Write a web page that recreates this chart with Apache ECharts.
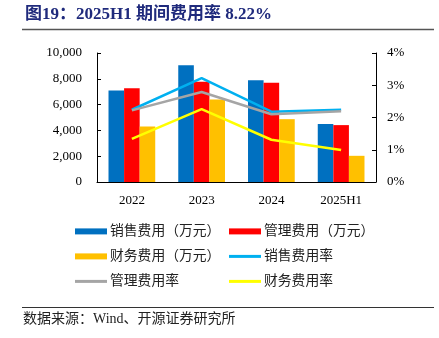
<!DOCTYPE html>
<html><head><meta charset="utf-8">
<script src="https://cdn.jsdelivr.net/npm/echarts@6/dist/echarts.min.js"></script>
<style>html,body{margin:0;padding:0;background:#fff}#c{width:439px;height:338px}</style>
</head><body><div id="c"></div>
<script>
const categories = ['2022', '2023', '2024', '2025H1'];
const salesExp = [7100, 9050, 7890, 4490];
const adminExp = [7270, 7780, 7700, 4410];
const finExp = [4300, 6400, 4870, 2030];
const salesRate = [2.24, 3.22, 2.18, 2.24];
const adminRate = [2.22, 2.79, 2.10, 2.19];
const finRate = [1.34, 2.26, 1.31, 0.99];
const leftTicks = [0, 2000, 4000, 6000, 8000, 10000];
const rightTicks = [0, 1, 2, 3, 4];
const seriesNames = ['销售费用（万元）', '管理费用（万元）', '财务费用（万元）', '销售费用率', '管理费用率', '财务费用率'];
const colors = ['#0070C0', '#FF0000', '#FFC000', '#00B0F0', '#A5A5A5', '#FFFF00'];

const serif = '"Liberation Serif","Times New Roman","Noto Sans CJK SC",serif';
const cjk = '"Liberation Serif","Noto Sans CJK SC",serif';
const chart = echarts.init(document.getElementById('c'), null, {renderer: 'canvas'});

const legendPos = [[75, 224], [229, 224], [75, 249], [229, 249], [75, 274], [229, 274]];
const legends = seriesNames.map((n, i) => ({
  data: [{name: n, icon: 'rect'}],
  left: legendPos[i][0], top: legendPos[i][1] + 0.5,
  itemWidth: 32, itemHeight: i < 3 ? 6 : 3,
  itemGap: 0, padding: 0,
  selectedMode: false,
  textStyle: {fontFamily: cjk, fontSize: 13.8, color: '#222', padding: [0, 0, 0, -2]}
}));

const barS = [salesExp, adminExp, finExp].map((d, i) => ({
  name: seriesNames[i], type: 'bar', data: d, yAxisIndex: 0,
  barGap: '0%', barCategoryGap: '33%',
  itemStyle: {color: colors[i]}
}));
const lineS = [salesRate, adminRate, finRate].map((d, i) => ({
  name: seriesNames[i + 3], type: 'line', data: d, yAxisIndex: 1,
  symbol: 'none', lineStyle: {color: colors[i + 3], width: 2.5},
  itemStyle: {color: colors[i + 3]}
}));

chart.setOption({
  animation: false,
  backgroundColor: '#fff',
  grid: {left: 97, right: 63, top: 53, bottom: 156},
  legend: legends,
  xAxis: {
    type: 'category', data: categories,
    axisLine: {lineStyle: {color: '#000', width: 1}},
    axisTick: {inside: true, length: 4, lineStyle: {color: '#000'}},
    axisLabel: {color: '#000', fontFamily: serif, fontSize: 13, margin: 12}
  },
  yAxis: [{
    type: 'value', min: leftTicks[0], max: leftTicks[leftTicks.length - 1], interval: 2000,
    axisLine: {show: true, lineStyle: {color: '#000'}},
    axisTick: {show: true, inside: true, length: 4, lineStyle: {color: '#000'}},
    splitLine: {show: false},
    axisLabel: {color: '#000', fontFamily: serif, fontSize: 13, margin: 15,
      formatter: v => v.toLocaleString('en-US')}
  }, {
    type: 'value', min: rightTicks[0], max: rightTicks[rightTicks.length - 1], interval: 1,
    axisLine: {show: true, lineStyle: {color: '#000'}},
    axisTick: {show: true, inside: true, length: 4, lineStyle: {color: '#000'}},
    splitLine: {show: false},
    axisLabel: {color: '#000', fontFamily: serif, fontSize: 13, margin: 11,
      formatter: v => v + '%'}
  }],
  series: barS.concat(lineS),
  graphic: [
    {type: 'text', left: 25, top: 6, style: {text: '图19：2025H1 期间费用率 8.22%', fill: '#1F2A7C',
      font: 'bold 17px ' + cjk}},
    {type: 'line', shape: {x1: 22, y1: 29.5, x2: 434, y2: 29.5}, style: {stroke: '#555', lineWidth: 1.5}},
    {type: 'line', shape: {x1: 22, y1: 307.5, x2: 434, y2: 307.5}, style: {stroke: '#333', lineWidth: 1}},
    {type: 'text', left: 23, top: 312, style: {text: '数据来源：Wind、开源证券研究所', fill: '#222',
      font: '14px ' + cjk}}
  ]
});
</script></body></html>
